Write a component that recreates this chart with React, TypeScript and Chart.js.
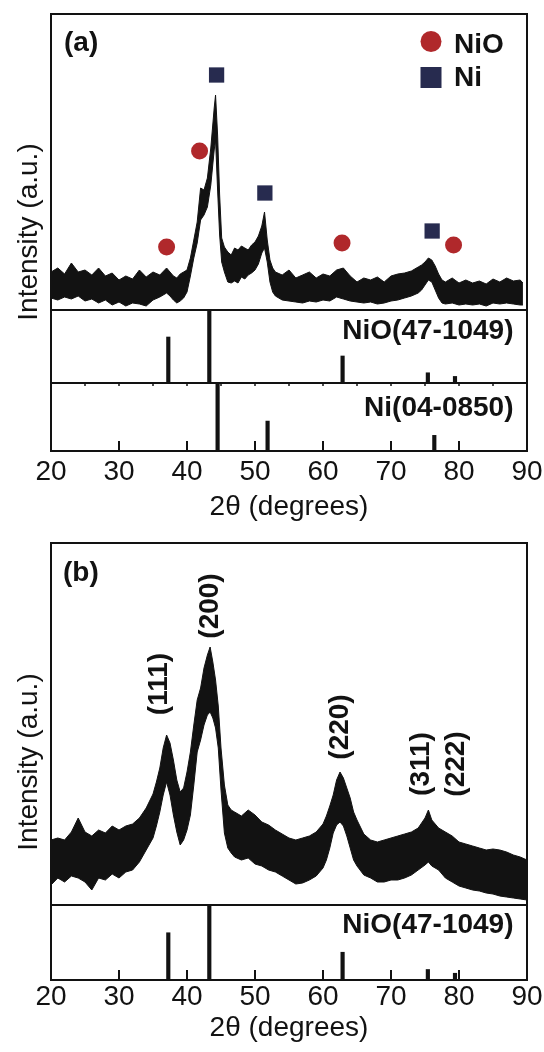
import React, { useEffect, useRef } from "react";
import { Chart, registerables } from "chart.js";

Chart.register(...registerables);

const FONT = "'Liberation Sans', Arial, Helvetica, sans-serif";
const INK = "#121212";
const RED = "#b0282b";
const NAVY = "#272b4f";

// ---------- Panel (a): measured pattern (envelope of the noisy trace) ----------
const patternAx = [
  20, 21, 22, 23, 24, 25, 26, 27, 28, 29, 30, 31, 32, 33, 34, 35, 36, 37,
  37.5, 38, 38.5, 39, 39.5, 40, 40.5, 41, 41.5, 42, 42.5, 43, 43.5, 44,
  44.2, 44.5, 44.8, 45.1, 45.5,
  46, 46.5, 47, 47.5, 48, 48.5, 49, 49.5, 50, 50.5, 51,
  51.4, 51.8, 52.2, 52.6,
  53, 54, 55, 56, 57, 58, 59, 60, 61, 62, 63, 64, 65, 66, 67, 68, 69, 70, 71, 72, 73, 74,
  74.5, 75, 75.5, 76, 76.5, 77, 77.5,
  78, 79, 80, 81, 82, 83, 84, 85, 86, 87, 88, 89,
  89.4,
];
const patternAUpper = [
  38, 42, 36, 47, 38, 40, 35, 42, 34, 37, 30, 34, 31, 40, 33, 38, 35, 42,
  38, 34, 32, 36, 38, 40, 52, 70, 88, 122, 120, 132, 162, 202,
  215, 175, 115, 72, 63,
  58, 55, 62, 60, 64, 62, 60, 65, 68, 74, 84,
  98, 70, 50, 42,
  38, 35, 40, 32, 35, 38, 32, 36, 34, 40, 42, 34, 28, 32, 30, 33, 28, 34, 36, 37, 39, 43,
  45, 48, 52, 50, 44, 36, 30,
  28, 32, 27, 30, 27, 29, 26, 31, 28, 32, 29, 30,
  27,
];
const patternALower = [
  12, 10, 13, 11, 14, 9, 11, 7, 10, 5, 8, 4, 7, 6, 4, 10, 13, 17,
  14, 10, 7, 9, 12, 18, 34, 52, 67, 90, 95, 103, 125, 160,
  170, 120, 75, 48, 38,
  28, 27, 29, 27, 33, 31, 35, 37, 40, 46, 57,
  62, 48, 28, 18,
  14, 10, 9, 8, 7, 9, 8, 10, 9, 13, 11, 9, 8, 7, 8, 6, 7, 9, 10, 12, 14, 17,
  20, 25, 30, 28, 20, 12, 7,
  6, 7, 5, 6, 5, 6, 4, 7, 6, 7, 6, 5,
  5,
];

// phase markers above the peaks in (a)
const nioMarkerX = [37.0, 41.85, 62.8, 79.2];
const nioMarkerY = [63, 159, 67, 65];
const niMarkerX = [44.35, 51.45, 76.05];
const niMarkerY = [235, 117, 79];

// ---------- Panel (b): measured pattern ----------
const patternBx = [
  20, 21, 22, 23, 24, 25, 26, 27, 28, 29, 30, 31, 32, 33, 34, 35,
  35.5, 36, 36.5, 37, 37.5, 38, 38.5, 39, 39.5, 40, 40.5, 41, 41.5, 42, 42.5, 43,
  43.4, 43.8, 44.2, 44.6, 45, 45.5, 46, 46.5, 47,
  48, 49, 50, 51, 52, 53, 54, 55, 56, 57, 58, 59, 60,
  60.5, 61, 61.5, 62, 62.5, 63, 63.5, 64, 64.5, 65,
  66, 67, 68, 69, 70, 71, 72, 73, 74, 75,
  75.5,
  76, 77, 78, 79, 80, 81, 82, 83, 84, 85, 86, 87, 88, 89, 90,
];
const patternBUpper = [
  65, 67, 65, 73, 87, 73, 69, 75, 72, 79, 75, 79, 81, 87, 97, 111,
  123, 137, 157, 170, 162, 145, 125, 113, 117, 133, 153, 180, 205, 217, 237, 250,
  258, 243, 225, 199, 157, 120, 100, 95, 93,
  89, 95, 90, 83, 80, 75, 71, 67, 65, 67, 69, 73, 81,
  89, 99, 110, 125, 133, 127, 117, 107, 93, 85,
  71, 65, 63, 65, 67, 69, 71, 73, 77, 87,
  95,
  85, 77, 73, 69, 63, 61, 59, 57, 55, 56, 55, 53, 50, 48, 45,
];
const patternBLower = [
  20, 27, 23, 29, 27, 23, 15, 27, 25, 31, 27, 33, 35, 43, 55, 67,
  79, 93, 110, 123, 110, 90, 73, 60, 65, 75, 90, 120, 153, 165, 180, 190,
  193, 187, 177, 157, 115, 72, 57, 52, 48,
  45, 47, 41, 39, 35, 33, 29, 25, 21, 22, 25, 29, 37,
  45, 57, 72, 80, 83, 79, 69, 57, 45, 39,
  30, 27, 23, 23, 25, 25, 27, 30, 35, 40,
  43,
  39, 35, 27, 23, 19, 17, 15, 14, 12, 11, 9, 8, 7, 6, 5,
];

// peak labels in (b)
const peakLabels = ["(111)", "(200)", "(220)", "(311)", "(222)"];
const peakLabelX = [35.9, 43.4, 62.6, 74.4, 79.6];
const peakLabelY = [221, 299, 178, 141, 141];

// ---------- Reference stick patterns ----------
const nioRefX = [37.25, 43.28, 62.88, 75.42, 79.41];
const nioRefI = [63, 100, 37, 14, 9];
const niRefX = [44.5, 51.85, 76.37];
const niRefI = [100, 44, 23];

const X_MIN = 20;
const X_MAX = 90;
const X_STEP = 10;

// ---------- helpers ----------
function drawText(
  ctx: CanvasRenderingContext2D,
  text: string,
  x: number,
  y: number,
  size: number,
  bold: boolean,
  align: CanvasTextAlign = "left",
  rotate = 0
) {
  ctx.save();
  ctx.font = `${bold ? "bold " : ""}${size}px ${FONT}`;
  ctx.fillStyle = INK;
  ctx.textAlign = align;
  ctx.textBaseline = "middle";
  ctx.translate(x, y);
  if (rotate) ctx.rotate(rotate);
  ctx.fillText(text, 0, 0);
  ctx.restore();
}

function framePlugin(extra?: (chart: any) => void) {
  return {
    id: "frame",
    afterDraw(chart: any) {
      const { ctx, chartArea: a } = chart;
      ctx.save();
      ctx.strokeStyle = INK;
      ctx.lineWidth = 2;
      ctx.strokeRect(a.left, a.top, a.right - a.left, a.bottom - a.top);
      ctx.restore();
      if (extra) extra(chart);
    },
  };
}

function baseOptions(padding: any, yMax: number) {
  return {
    responsive: false,
    animation: false as const,
    devicePixelRatio: 1,
    events: [] as any[],
    layout: { padding },
    plugins: { legend: { display: false }, tooltip: { enabled: false } },
    scales: {
      x: { type: "linear" as const, min: X_MIN, max: X_MAX, offset: false, display: false },
      y: { type: "linear" as const, min: 0, max: yMax, display: false },
    },
  };
}

function bottomAxis(tickPad: number, titlePad: number) {
  return {
    type: "linear" as const,
    min: X_MIN,
    max: X_MAX,
    offset: false,
    position: "bottom" as const,
    display: true,
    grid: { display: false, drawTicks: false, offset: false },
    border: { display: false },
    ticks: {
      stepSize: X_STEP,
      padding: tickPad,
      color: INK,
      font: { size: 28, lineHeight: 1, family: FONT },
      maxRotation: 0,
      autoSkip: false,
    },
    title: {
      display: true,
      text: "2θ (degrees)",
      color: INK,
      font: { size: 28, lineHeight: 1, family: FONT },
      padding: { top: 0, bottom: titlePad },
    },
    afterFit: (s: any) => {
      s.height = 72;
      s.paddingLeft = 0;
      s.paddingRight = 0;
    },
  };
}

function envelopeDatasets(xs: number[], up: number[], lo: number[]) {
  return [
    {
      data: xs.map((x, i) => ({ x, y: up[i] })),
      showLine: true,
      pointRadius: 0,
      borderColor: INK,
      borderWidth: 1,
      backgroundColor: INK,
      fill: "+1",
      tension: 0,
    },
    {
      data: xs.map((x, i) => ({ x, y: lo[i] })),
      showLine: true,
      pointRadius: 0,
      borderColor: INK,
      borderWidth: 1,
      fill: false,
      tension: 0,
    },
  ];
}

function stickDataset(xs: number[], ys: number[]) {
  return {
    data: xs.map((x, i) => ({ x, y: ys[i] })),
    backgroundColor: INK,
    borderWidth: 0,
    barThickness: 3.5,
  };
}

function innerTicks(chart: any) {
  const { ctx, chartArea: a, scales } = chart;
  ctx.save();
  ctx.strokeStyle = INK;
  ctx.lineWidth = 2;
  for (let v = X_MIN + X_STEP; v < X_MAX; v += X_STEP) {
    const px = scales.x.getPixelForValue(v);
    ctx.beginPath();
    ctx.moveTo(px, a.bottom);
    ctx.lineTo(px, a.bottom - 10);
    ctx.stroke();
  }
  ctx.restore();
}

function topMinorTicks(chart: any) {
  const { ctx, chartArea: a, scales } = chart;
  ctx.save();
  ctx.strokeStyle = INK;
  ctx.lineWidth = 1.5;
  for (let v = X_MIN + X_STEP / 2; v < X_MAX; v += X_STEP / 2) {
    const px = scales.x.getPixelForValue(v);
    ctx.beginPath();
    ctx.moveTo(px, a.top);
    ctx.lineTo(px, a.top + 3);
    ctx.stroke();
  }
  ctx.restore();
}

const CANVASES = [
  { top: 0, h: 460 }, // (a) pattern
  { top: 300, h: 100 }, // (a) NiO sticks
  { top: 373, h: 150 }, // (a) Ni sticks + axis
  { top: 530, h: 460 }, // (b) pattern
  { top: 895, h: 157 }, // (b) NiO sticks + axis
];

export default function App() {
  const r0 = useRef<HTMLCanvasElement>(null);
  const r1 = useRef<HTMLCanvasElement>(null);
  const r2 = useRef<HTMLCanvasElement>(null);
  const r3 = useRef<HTMLCanvasElement>(null);
  const r4 = useRef<HTMLCanvasElement>(null);
  const refs = [r0, r1, r2, r3, r4];

  useEffect(() => {
    Chart.defaults.font.family = FONT;
    Chart.defaults.color = INK;
    const charts: Chart[] = [];

    // (a) pattern
    {
      const opts: any = baseOptions({ left: 51, right: 17, top: 14, bottom: 150 }, 296);
      charts.push(
        new Chart(r0.current!, {
          type: "scatter",
          data: {
            datasets: [
              ...envelopeDatasets(patternAx, patternAUpper, patternALower),
              {
                data: nioMarkerX.map((x, i) => ({ x, y: nioMarkerY[i] })),
                pointStyle: "circle",
                pointRadius: 8.5,
                backgroundColor: RED,
                borderWidth: 0,
              },
              {
                data: niMarkerX.map((x, i) => ({ x, y: niMarkerY[i] })),
                pointStyle: "rect",
                pointRadius: 10.8,
                backgroundColor: NAVY,
                borderWidth: 0,
              },
            ] as any,
          },
          options: opts,
          plugins: [
            framePlugin((chart) => {
              const ctx = chart.ctx as CanvasRenderingContext2D;
              drawText(ctx, "(a)", 64, 43, 28, true);
              // legend
              ctx.save();
              ctx.fillStyle = RED;
              ctx.beginPath();
              ctx.arc(431, 41.5, 10.5, 0, Math.PI * 2);
              ctx.fill();
              ctx.fillStyle = NAVY;
              ctx.fillRect(431 - 10.5, 77.5 - 10.5, 21, 21);
              ctx.restore();
              drawText(ctx, "NiO", 454, 45, 28, true);
              drawText(ctx, "Ni", 454, 78, 28, true);
              // y title centered on the whole panel
              drawText(ctx, "Intensity (a.u.)", 29, 232, 28, false, "center", -Math.PI / 2);
            }),
          ],
        })
      );
    }

    // (a) NiO reference
    {
      const opts: any = baseOptions({ left: 51, right: 17, top: 10, bottom: 17 }, 100);
      charts.push(
        new Chart(r1.current!, {
          type: "bar",
          data: { datasets: [stickDataset(nioRefX, nioRefI)] as any },
          options: opts,
          plugins: [
            framePlugin((chart) => {
              drawText(chart.ctx, "NiO(47-1049)", chart.chartArea.right - 13.5, 331 - 300, 28, true, "right");
            }),
          ],
        })
      );
    }

    // (a) Ni reference + x axis
    {
      const opts: any = baseOptions({ left: 51, right: 17, top: 10, bottom: 0 }, 100);
      opts.scales.x = bottomAxis(7, 2);
      charts.push(
        new Chart(r2.current!, {
          type: "bar",
          data: { datasets: [stickDataset(niRefX, niRefI)] as any },
          options: opts,
          plugins: [
            framePlugin((chart) => {
              innerTicks(chart);
              topMinorTicks(chart);
              drawText(chart.ctx, "Ni(04-0850)", chart.chartArea.right - 13.5, 408.5 - 373, 28, true, "right");
            }),
          ],
        })
      );
    }

    // (b) pattern
    {
      const opts: any = baseOptions({ left: 51, right: 17, top: 13, bottom: 85 }, 362);
      charts.push(
        new Chart(r3.current!, {
          type: "scatter",
          data: { datasets: envelopeDatasets(patternBx, patternBUpper, patternBLower) as any },
          options: opts,
          plugins: [
            framePlugin((chart) => {
              const ctx = chart.ctx as CanvasRenderingContext2D;
              drawText(ctx, "(b)", 63, 43, 28, true);
              const xs = chart.scales.x;
              const ys = chart.scales.y;
              peakLabels.forEach((t, i) => {
                drawText(
                  ctx,
                  t,
                  xs.getPixelForValue(peakLabelX[i]),
                  ys.getPixelForValue(peakLabelY[i]),
                  28,
                  true,
                  "center",
                  -Math.PI / 2
                );
              });
              drawText(ctx, "Intensity (a.u.)", 29, 232, 28, false, "center", -Math.PI / 2);
            }),
          ],
        })
      );
    }

    // (b) NiO reference + x axis
    {
      const opts: any = baseOptions({ left: 51, right: 17, top: 10, bottom: 0 }, 100);
      opts.scales.x = bottomAxis(3.5, 10);
      charts.push(
        new Chart(r4.current!, {
          type: "bar",
          data: { datasets: [stickDataset(nioRefX, nioRefI)] as any },
          options: opts,
          plugins: [
            framePlugin((chart) => {
              innerTicks(chart);
              drawText(chart.ctx, "NiO(47-1049)", chart.chartArea.right - 13.5, 30, 28, true, "right");
            }),
          ],
        })
      );
    }

    return () => charts.forEach((c) => c.destroy());
  }, []);

  return (
    <div
      style={{
        position: "absolute",
        left: 0,
        top: 0,
        width: 544,
        height: 1052,
        background: "#ffffff",
        overflow: "hidden",
      }}
    >
      {CANVASES.map((c, i) => (
        <canvas
          key={i}
          ref={refs[i]}
          width={544}
          height={c.h}
          style={{ position: "absolute", left: 0, top: c.top, width: 544, height: c.h }}
        />
      ))}
    </div>
  );
}
